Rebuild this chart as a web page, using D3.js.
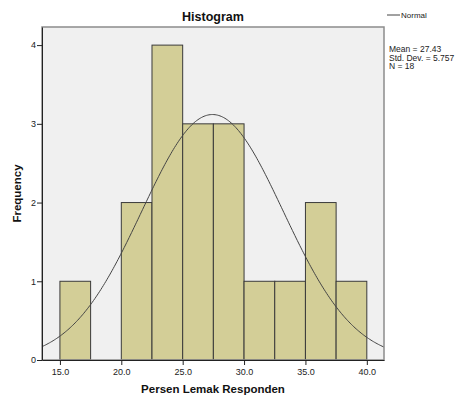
<!DOCTYPE html>
<html><head><meta charset="utf-8">
<script src="https://cdn.jsdelivr.net/npm/d3@7/dist/d3.min.js"></script>
<style>body{margin:0;background:#fff}svg{display:block;font-family:Arial,"Liberation Sans",sans-serif}</style>
</head><body><svg id="c" width="467" height="401"></svg>
<script>
const binStarts = [15, 17.5, 20, 22.5, 25, 27.5, 30, 32.5, 35, 37.5];
const binWidth = 2.5;
const frequencies = [1, 0, 2, 4, 3, 3, 1, 1, 2, 1];
const xTicks = [15, 20, 25, 30, 35, 40];
const yTicks = [0, 1, 2, 3, 4];
const stats = {mean: 27.43, sd: 5.757, n: 18};
const statLabels = ["Mean = 27.43", "Std. Dev. = 5.757", "N = 18"];

const svg = d3.select("#c");
const L = 42, R = 384, T = 27, B = 360;
const x = d3.scaleLinear().domain([13.54, 41.4]).range([L, R]);
const y = d3.scaleLinear().domain([0, 4.23]).range([B, T]);

svg.append("rect").attr("x", L).attr("y", T).attr("width", R - L).attr("height", B - T)
  .attr("fill", "#f0f0f0");

svg.append("defs").append("clipPath").attr("id", "clip").append("rect")
  .attr("x", L).attr("y", T).attr("width", R - L).attr("height", B - T);

svg.append("g").selectAll("rect").data(binStarts.map((s, i) => ({s, f: frequencies[i]})).filter(d => d.f > 0))
  .join("rect")
  .attr("x", d => x(d.s)).attr("width", d => x(d.s + binWidth) - x(d.s))
  .attr("y", d => y(d.f)).attr("height", d => y(0) - y(d.f))
  .attr("fill", "#d3ce97").attr("stroke", "#3a3a3a").attr("stroke-width", 1);

// normal curve from stated mean / sd / N
const pts = d3.range(13.54, 41.45, 0.1).map(v => [v, stats.n * binWidth / (stats.sd * Math.sqrt(2 * Math.PI)) * Math.exp(-0.5 * Math.pow((v - stats.mean) / stats.sd, 2))]);
svg.append("path").datum(pts).attr("clip-path", "url(#clip)")
  .attr("d", d3.line().x(d => x(d[0])).y(d => y(d[1])).curve(d3.curveBasis))
  .attr("fill", "none").attr("stroke", "#444").attr("stroke-width", 1);

// frame
svg.append("rect").attr("x", L).attr("y", T).attr("width", R - L).attr("height", B - T)
  .attr("fill", "none").attr("stroke", "#8c8c8c").attr("stroke-width", 1.5);

// axes
const xa = svg.append("g").attr("transform", `translate(0,${B})`)
  .call(d3.axisBottom(x).tickValues(xTicks).tickFormat(d3.format(".1f")).tickSize(5).tickSizeOuter(0));
const ya = svg.append("g").attr("transform", `translate(${L},0)`)
  .call(d3.axisLeft(y).tickValues(yTicks).tickFormat(d3.format("d")).tickSize(5).tickSizeOuter(0));
[xa, ya].forEach(a => {
  a.select(".domain").attr("stroke", "#222").attr("stroke-width", 1);
  a.selectAll(".tick line").attr("stroke", "#222");
  a.selectAll(".tick text").attr("fill", "#222").style("font-size", "9px").style("font-family", "Arial,'Liberation Sans',sans-serif");
});
xa.selectAll(".tick text").attr("dy", "0.85em").attr("y", 7);
ya.selectAll(".tick text").attr("x", -6);

svg.append("text").attr("x", (L + R) / 2).attr("y", 21).attr("text-anchor", "middle")
  .style("font-size", "12.5px").style("font-weight", "bold").attr("fill", "#111").text("Histogram");
svg.append("text").attr("x", (L + R) / 2).attr("y", 393).attr("text-anchor", "middle")
  .style("font-size", "11.5px").style("font-weight", "bold").attr("fill", "#111").text("Persen Lemak Responden");
svg.append("text").attr("transform", `translate(21,${(T + B) / 2}) rotate(-90)`).attr("text-anchor", "middle")
  .style("font-size", "11.5px").style("font-weight", "bold").attr("fill", "#111").text("Frequency");

// legend
svg.append("line").attr("x1", 387).attr("x2", 400).attr("y1", 15).attr("y2", 15).attr("stroke", "#444");
svg.append("text").attr("x", 401).attr("y", 18).style("font-size", "8px").attr("fill", "#222").text("Normal");
svg.append("g").selectAll("text").data(statLabels).join("text")
  .attr("x", 389).attr("y", (d, i) => 52 + i * 8.5).style("font-size", "8.5px").attr("fill", "#222").text(d => d);
</script></body></html>
